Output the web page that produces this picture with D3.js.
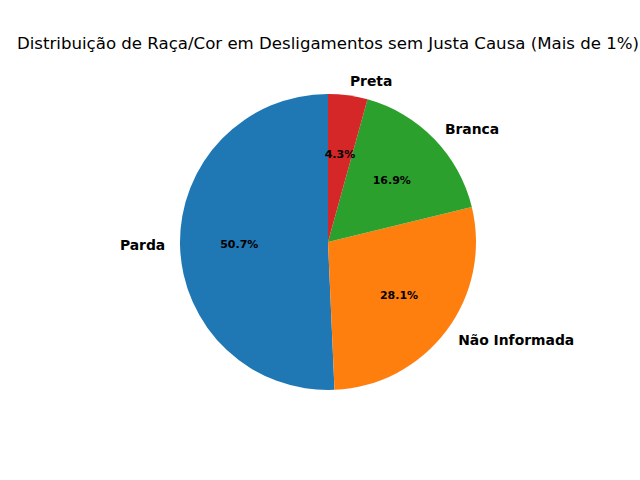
<!DOCTYPE html>
<html><head><meta charset="utf-8">
<script src="https://cdn.jsdelivr.net/npm/d3@7"></script>
<style>body{margin:0;background:#fff}svg{display:block}text{font-family:"DejaVu Sans",sans-serif}</style>
</head><body>
<script>
const categories = ["Parda", "Não Informada", "Branca", "Preta"];
const values = [50.7, 28.1, 16.9, 4.3];
const colors = ["#1f77b4", "#ff7f0e", "#2ca02c", "#d62728"];
const title = "Distribuição de Raça/Cor em Desligamentos sem Justa Causa (Mais de 1%)";

const W = 640, H = 480, cx = 328, cy = 242, R = 148;
const svg = d3.select("body").append("svg").attr("width", W).attr("height", H);
svg.append("text").attr("x", cx).attr("y", 49).attr("text-anchor", "middle")
  .attr("font-size", "16.6px").attr("fill", "#000").text(title);

const pie = d3.pie().sort(null).startAngle(0).endAngle(-2 * Math.PI);
const arcs = pie(values);
const arc = d3.arc().innerRadius(0).outerRadius(R);
const g = svg.append("g").attr("transform", `translate(${cx},${cy})`);
g.selectAll("path").data(arcs).join("path")
  .attr("d", arc).attr("fill", (d, i) => colors[i]);

arcs.forEach((d, i) => {
  const a = (d.startAngle + d.endAngle) / 2;
  const lx = Math.sin(a) * R * 1.1, ly = -Math.cos(a) * R * 1.1;
  g.append("text").attr("x", lx).attr("y", ly).attr("dy", "0.35em")
    .attr("text-anchor", lx < 0 ? "end" : "start")
    .attr("font-size", "13.9px").attr("font-weight", "bold").text(categories[i]);
  const px = Math.sin(a) * R * 0.6, py = -Math.cos(a) * R * 0.6;
  g.append("text").attr("x", px).attr("y", py).attr("dy", "0.35em")
    .attr("text-anchor", "middle").attr("font-size", "11px").attr("font-weight", "bold")
    .text(values[i].toFixed(1) + "%");
});
</script>
</body></html>
